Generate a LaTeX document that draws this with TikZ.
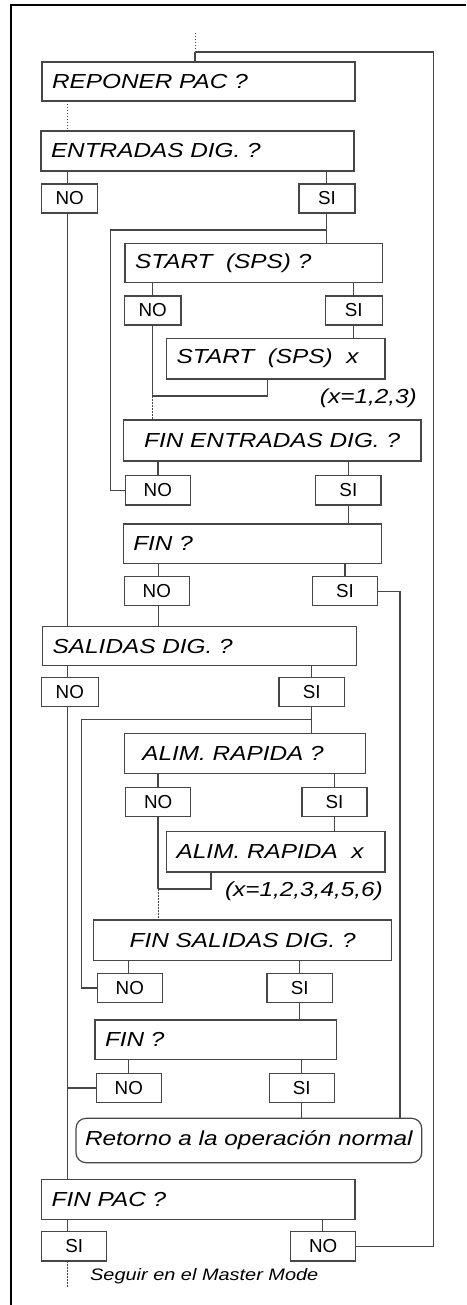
\documentclass[tikz,border=0pt]{standalone}
\usepackage{fontspec}
\newfontfamily\wfam{Liberation Sans}[FakeStretch=1.2]
\newfontfamily\ynfam{Liberation Sans}
\definecolor{lc}{RGB}{70,70,70}
\tikzset{
  qbox/.style={draw=lc, line width=1.2pt, inner xsep=10pt, inner ysep=0pt, outer sep=0pt,
    anchor=north west, align=left, font=\wfam\itshape\fontsize{20.3}{24}\selectfont},
  yn/.style={draw=lc, line width=1.2pt, inner sep=0pt, outer sep=0pt, anchor=north west,
    font=\ynfam\fontsize{18.8}{22}\selectfont},
  ln/.style={draw=lc, line width=1.1pt},
  dotl/.style={draw=lc, line width=0.8pt, dash pattern=on 1.5pt off 1.5pt},
  lbl/.style={inner sep=0pt, font=\wfam\itshape\fontsize{20.3}{24}\selectfont},
  lblsmall/.style={inner sep=0pt, font=\wfam\itshape\fontsize{16.6}{20}\selectfont}
}
\begin{document}
\begin{tikzpicture}[x=1pt,y=-1pt]
\useasboundingbox (0,0) rectangle (466,1305);
\draw[line width=1.3pt] (11,1305) -- (11,5) -- (466,5);

% x coordinates of vertical lines
\coordinate (xA) at (67.7,0);
\coordinate (xR) at (433.3,0);
\coordinate (xS2) at (326.7,0);
\coordinate (xL1) at (110.7,0);
\coordinate (xN3) at (152.3,0);
\coordinate (xS3) at (353.3,0);
\coordinate (xX1) at (267.3,0);
\coordinate (xN4) at (158,0);
\coordinate (xS4) at (348.7,0);
\coordinate (xN5) at (158.3,0);
\coordinate (xS5) at (345,0);
\coordinate (xR2) at (400,0);
\coordinate (xS6) at (311.3,0);
\coordinate (xL2) at (81.3,0);
\coordinate (xN7) at (158,0);
\coordinate (xS7) at (334.3,0);
\coordinate (xX2) at (211,0);
\coordinate (xN8) at (128.3,0);
\coordinate (xS8) at (299.7,0);
\coordinate (xS9) at (301.7,0);
\coordinate (xS10) at (322.7,0);
\coordinate (yL1) at (0,230);
\coordinate (yJ1) at (0,396);
\coordinate (yL2) at (0,719.3);
\coordinate (yJ2) at (0,889);
\coordinate (tstart) at (195,33);
\coordinate (jtop) at (195,52);
\coordinate (tend) at (67.7,1286.7);

% question boxes
\node[qbox, text width=293pt, minimum height=39pt] (q1) at (42,62) {REPONER PAC ?};
\node[qbox, text width=293pt, minimum height=40pt] (q2) at (41,131) {ENTRADAS DIG. ?};
\node[qbox, text width=237.3pt, minimum height=39.4pt] (q3) at (125,243.3) {START\ \ (SPS) ?};
\node[qbox, text width=198.3pt, minimum height=40.7pt] (q3x) at (166.7,338.3) {START\ \ (SPS)\ \ x};
\node[qbox, text width=277.7pt, minimum height=41pt, align=center] (q4) at (123.3,420) {FIN ENTRADAS DIG. ?};
\node[qbox, text width=238.4pt, minimum height=39.3pt] (q5) at (123.3,524) {FIN ?};
\node[qbox, text width=294pt, minimum height=39pt] (q6) at (42.7,626.7) {SALIDAS DIG. ?};
\node[qbox, inner xsep=18pt, text width=205.4pt, minimum height=39.6pt] (q7) at (124.3,733.7) {ALIM. RAPIDA ?};
\node[qbox, text width=198.3pt, minimum height=40.3pt] (q7x) at (166.7,831.7) {ALIM. RAPIDA\ \ x};
\node[qbox, text width=278pt, minimum height=40.7pt, align=center] (q8) at (93.7,920) {FIN SALIDAS DIG. ?};
\node[qbox, text width=221.3pt, minimum height=39.3pt] (q9) at (95,1020) {FIN ?};
\node[qbox, inner xsep=2pt, minimum width=345.7pt, minimum height=44.4pt, rounded corners=10pt, align=center] (ret) at (76,1118.3) {Retorno a la operación normal};
\node[qbox, text width=293.3pt, minimum height=40pt] (q10) at (41.7,1179.3) {FIN PAC ?};

% yes / no boxes
\node[yn, minimum width=56pt, minimum height=29pt] (n2) at (41.7,184) {NO};
\node[yn, minimum width=56pt, minimum height=29pt] (s2) at (299,184) {SI};
\node[yn, minimum width=56.7pt, minimum height=29pt] (n3) at (124.3,296) {NO};
\node[yn, minimum width=57pt, minimum height=29pt] (s3) at (325.3,296) {SI};
\node[yn, minimum width=65pt, minimum height=29.3pt] (n4) at (125.3,475.7) {NO};
\node[yn, minimum width=65.3pt, minimum height=29.3pt] (s4) at (315.7,475.7) {SI};
\node[yn, minimum width=65pt, minimum height=29pt] (n5) at (124.3,576.7) {NO};
\node[yn, minimum width=65.4pt, minimum height=29pt] (s5) at (312.3,576.7) {SI};
\node[yn, minimum width=57pt, minimum height=29.4pt] (n6) at (41.3,677.3) {NO};
\node[yn, minimum width=65.3pt, minimum height=29.4pt] (s6) at (279,677.3) {SI};
\node[yn, minimum width=65pt, minimum height=29pt] (n7) at (125.7,787.7) {NO};
\node[yn, minimum width=65pt, minimum height=29pt] (s7) at (302,787.7) {SI};
\node[yn, minimum width=65pt, minimum height=29.4pt] (n8) at (97.3,973.3) {NO};
\node[yn, minimum width=65.3pt, minimum height=29.4pt] (s8) at (267,973.3) {SI};
\node[yn, minimum width=65pt, minimum height=29.4pt] (n9) at (96.3,1073.3) {NO};
\node[yn, minimum width=65pt, minimum height=29.4pt] (s9) at (269.3,1073.3) {SI};
\node[yn, minimum width=65pt, minimum height=29.3pt] (n10) at (41.7,1231.7) {SI};
\node[yn, minimum width=65pt, minimum height=29.3pt] (s10) at (290.7,1231.7) {NO};

% labels
\node[lbl, anchor=east] (xl1) at (417,398.3) {(x=1,2,3)};
\node[lbl, anchor=east] (xl2) at (383,891.7) {(x=1,2,3,4,5,6)};
\node[lblsmall, anchor=west] (seg) at (90,1275.7) {Seguir en el Master Mode};

% connectors
\draw[dotl] (tstart) -- (jtop);
\draw[ln] (jtop) -- (q1.north -| jtop);
\draw[ln] (s10.east) -- (s10.east -| xR) -- (jtop -| xR) -- (jtop);
\draw[dotl] (q1.south -| xA) -- (q2.north -| xA);
\draw[ln] (q2.south -| xA) -- (n2.north -| xA);
\draw[ln] (n2.south -| xA) -- (q6.north -| xA);
\draw[ln] (q2.south -| xS2) -- (s2.north -| xS2);
\draw[ln] (s2.south -| xS2) -- (q3.north -| xS2);
\draw[ln] (xS2 |- yL1) -- (xL1 |- yL1) -- (xL1 |- n4.west) -- (n4.west);
\draw[ln] (q3.south -| xN3) -- (n3.north -| xN3);
\draw[ln] (q3.south -| xS3) -- (s3.north -| xS3);
\draw[ln] (s3.south -| xS3) -- (q3x.north -| xS3);
\draw[ln] (q3x.south -| xX1) -- (xX1 |- yJ1) -- (xN3 |- yJ1);
\draw[ln] (n3.south -| xN3) -- (xN3 |- yJ1);
\draw[dotl] (xN3 |- yJ1) -- (q4.north -| xN3);
\draw[ln] (q4.south -| xN4) -- (n4.north -| xN4);
\draw[ln] (q4.south -| xS4) -- (s4.north -| xS4);
\draw[ln] (s4.south -| xS4) -- (q5.north -| xS4);
\draw[ln] (q5.south -| xN5) -- (n5.north -| xN5);
\draw[ln] (n5.south -| xN5) -- (q6.north -| xN5);
\draw[ln] (q5.south -| xS5) -- (s5.north -| xS5);
\draw[ln] (s5.east) -- (s5.east -| xR2) -- (ret.north -| xR2);
\draw[ln] (q6.south -| xA) -- (n6.north -| xA);
\draw[ln] (n6.south -| xA) -- (q10.north -| xA);
\draw[ln] (q6.south -| xS6) -- (s6.north -| xS6);
\draw[ln] (s6.south -| xS6) -- (q7.north -| xS6);
\draw[ln] (xS6 |- yL2) -- (xL2 |- yL2) -- (xL2 |- n8.west) -- (n8.west);
\draw[ln] (q7.south -| xN7) -- (n7.north -| xN7);
\draw[ln] (q7.south -| xS7) -- (s7.north -| xS7);
\draw[ln] (s7.south -| xS7) -- (q7x.north -| xS7);
\draw[ln] (q7x.south -| xX2) -- (xX2 |- yJ2) -- (xN7 |- yJ2);
\draw[ln] (n7.south -| xN7) -- (xN7 |- yJ2);
\draw[dotl] (xN7 |- yJ2) -- (q8.north -| xN7);
\draw[ln] (q8.south -| xN8) -- (n8.north -| xN8);
\draw[ln] (q8.south -| xS8) -- (s8.north -| xS8);
\draw[ln] (s8.south -| xS8) -- (q9.north -| xS8);
\draw[ln] (q9.south -| xN8) -- (n9.north -| xN8);
\draw[ln] (q9.south -| xS9) -- (s9.north -| xS9);
\draw[ln] (s9.south -| xS9) -- (ret.north -| xS9);
\draw[ln] (n9.west) -- (n9.west -| xA);
\draw[ln] (q10.south -| xA) -- (n10.north -| xA);
\draw[ln] (q10.south -| xS10) -- (s10.north -| xS10);
\draw[dotl] (n10.south -| xA) -- (tend);
\end{tikzpicture}
\end{document}
